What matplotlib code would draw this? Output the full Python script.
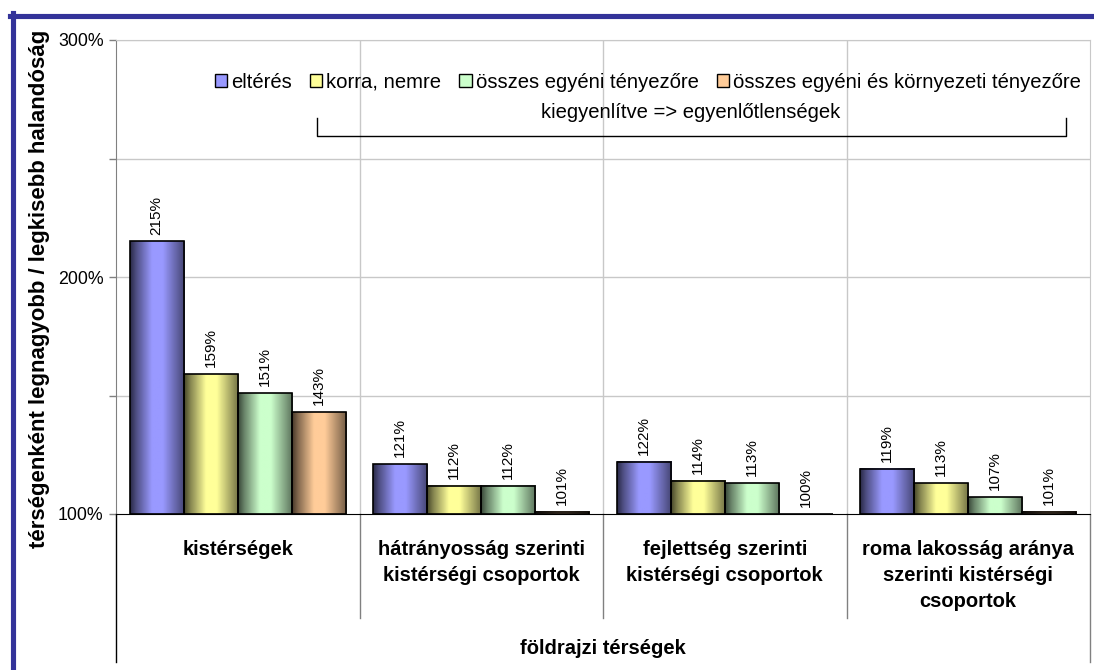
import numpy as np
import matplotlib
matplotlib.use("Agg")
import matplotlib.pyplot as plt
from matplotlib.colors import to_rgb
from matplotlib.patches import Rectangle, Patch
from matplotlib.lines import Line2D

plt.rcParams['font.family'] = ['Liberation Sans', 'DejaVu Sans']

# data
categories = ['kistérségek',
              'hátrányosság szerinti\nkistérségi csoportok',
              'fejlettség szerinti\nkistérségi csoportok',
              'roma lakosság aránya\nszerinti kistérségi\ncsoportok']
series = ['eltérés', 'korra, nemre', 'összes egyéni tényezőre',
          'összes egyéni és környezeti tényezőre']
values = [
    [215, 121, 122, 119],   # eltérés
    [159, 112, 114, 113],   # korra, nemre
    [151, 112, 113, 107],   # összes egyéni tényezőre
    [143, 101, 100, 101],   # összes egyéni és környezeti tényezőre
]
colors = ['#9999FF', '#FFFF99', '#CCFFCC', '#FFCC99']
ytick_vals = [100, 150, 200, 250, 300]
ytick_labels = ['100%', '', '200%', '', '300%']

W, H = 1094, 670
fig = plt.figure(figsize=(W / 100, H / 100), dpi=100)


def fx(px):
    return px / W


def fy(py):
    return 1 - py / H


ax = fig.add_axes([fx(116), fy(514), fx(1090) - fx(116), fy(40) - fy(514)])
ax.set_xlim(-0.5, 3.5)
ax.set_ylim(100, 300)

# grid
for y in [150, 200, 250, 300]:
    ax.axhline(y, color='#c8c8c8', lw=1, zorder=0)
for x in [0.5, 1.5, 2.5]:
    ax.axvline(x, color='#c8c8c8', lw=1, zorder=0)

bw = 0.222
offsets = (np.arange(4) - 1.5) * bw
prof_t = np.linspace(0, 1, 64)
prof = np.interp(prof_t, [0, 0.1, 0.4, 0.6, 1.0], [0.28, 0.5, 1.0, 1.0, 0.45])

for s in range(4):
    base = np.array(to_rgb(colors[s]))
    grad = np.clip(prof[:, None] * base[None, :], 0, 1)[None, :, :]
    for c in range(4):
        v = values[s][c]
        x0 = c + offsets[s] - bw / 2
        if v > 100:
            ax.imshow(grad, extent=[x0, x0 + bw, 100, v], aspect='auto',
                      interpolation='bilinear', zorder=2)
        ax.add_patch(Rectangle((x0, 100), bw, v - 100, fill=False,
                               edgecolor='black', lw=1.2, zorder=3))
        ax.annotate(f'{v}%', (c + offsets[s], v), xytext=(0, 5),
                    textcoords='offset points', rotation=90,
                    ha='center', va='bottom', fontsize=11, zorder=4)

ax.set_xlim(-0.5, 3.5)
ax.set_ylim(100, 300)
ax.set_xticks([])
ax.set_yticks(ytick_vals)
ax.set_yticklabels(ytick_labels, fontsize=12.8)
ax.tick_params(axis='y', length=5, width=1, color='#808080', pad=4)

for sp in ['top', 'right']:
    ax.spines[sp].set_color('#c8c8c8')
ax.spines['left'].set_color('#808080')
ax.spines['bottom'].set_color('black')

ax.set_ylabel('térségenként legnagyobb / legkisebb halandóság',
              fontsize=16, fontweight='bold')
ax.yaxis.set_label_coords(-0.068, 0.475)

# multi-level category axis
btr = ax.get_xaxis_transform()
for x in [0.5, 1.5, 2.5]:
    ax.plot([x, x], [0, -0.219], transform=btr, color='#808080', lw=1,
            clip_on=False)
ax.plot([-0.5, -0.5], [0, -0.312], transform=btr, color='black', lw=1,
        clip_on=False)
ax.plot([3.5, 3.5], [0, -0.312], transform=btr, color='#808080', lw=1,
        clip_on=False)
for c, lab in enumerate(categories):
    ax.text(c, -0.0555, lab, transform=btr, ha='center', va='top',
            fontsize=14.5, fontweight='bold', linespacing=1.46)
ax.text(0.5, -0.283, 'földrajzi térségek', transform=ax.transAxes,
        ha='center', va='center', fontsize=14.5, fontweight='bold')

# legend
handles = [Patch(facecolor=col, edgecolor='black', lw=1) for col in colors]
ax.legend(handles, series, loc='center', bbox_to_anchor=(0.546, 0.911),
          ncol=4, frameon=False, fontsize=14.6, handlelength=0.6,
          handleheight=0.6, handletextpad=0.2, columnspacing=0.9,
          borderaxespad=0)

# bracket
ax.plot([0.206, 0.206, 0.975, 0.975], [0.835, 0.797, 0.797, 0.835],
        transform=ax.transAxes, color='black', lw=1)
ax.text(0.590, 0.846, 'kiegyenlítve => egyenlőtlenségek',
        transform=ax.transAxes, ha='center', va='center', fontsize=14.6)

# frame
fig.add_artist(Line2D([fx(10), 1], [fy(15.5), fy(15.5)], color='#333399',
                      lw=3.7, transform=fig.transFigure))
fig.add_artist(Line2D([fx(12.5), fx(12.5)], [fy(13), 0], color='#333399',
                      lw=3.7, transform=fig.transFigure))

fig.savefig('out.png', dpi=100)
